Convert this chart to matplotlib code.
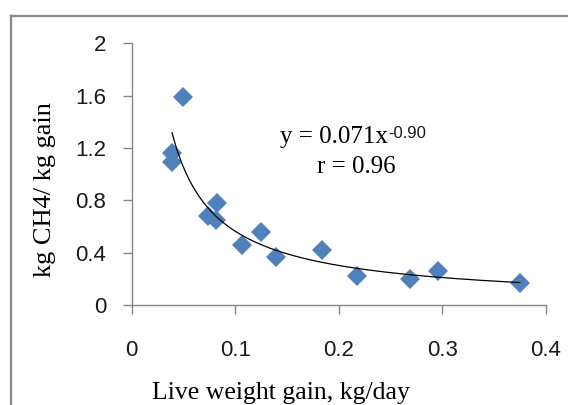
import matplotlib
matplotlib.use("Agg")
import matplotlib.pyplot as plt
from matplotlib.lines import Line2D
import numpy as np

# ── Data ──────────────────────────────────────────────────────────────────────
gain = [0.039, 0.039, 0.050, 0.074, 0.081, 0.082, 0.107, 0.125, 0.139,
        0.184, 0.218, 0.269, 0.296, 0.375]
ch4_per_gain = [1.16, 1.09, 1.59, 0.68, 0.65, 0.78, 0.46, 0.56, 0.37,
                0.42, 0.22, 0.20, 0.26, 0.17]

# power trendline as printed on the chart: y = a * x^b
FIT_A = 0.071
FIT_B = -0.90
FIT_R = 0.96

x_ticks = [0, 0.1, 0.2, 0.3, 0.4]
x_tick_labels = ["0", "0.1", "0.2", "0.3", "0.4"]
y_ticks = [0, 0.4, 0.8, 1.2, 1.6, 2.0]
y_tick_labels = ["0", "0.4", "0.8", "1.2", "1.6", "2"]

AXIS_GREY = "#868686"
BLUE = "#4F81BD"
SERIF = "Liberation Serif"
SANS = "Liberation Sans"

fig = plt.figure(figsize=(5.68, 4.05), dpi=100)
fig.patch.set_facecolor("white")
ax = fig.add_axes([0.2319, 0.2469, 0.7288, 0.6461])

ax.plot(gain, ch4_per_gain, linestyle="none", marker="D", markersize=10,
        color=BLUE, markeredgewidth=0, zorder=3)

# trendline over the data range
xs = np.linspace(min(gain), max(gain), 200)
ax.plot(xs, FIT_A * xs ** FIT_B, color="black", linewidth=0.9, zorder=4)

ax.set_xlim(0, 0.4)
ax.set_ylim(0, 2)
ax.set_xticks(x_ticks)
ax.set_xticklabels(x_tick_labels, fontfamily=SANS, fontsize=16)
ax.set_yticks(y_ticks)
ax.set_yticklabels(y_tick_labels, fontfamily=SANS, fontsize=16)

for side in ["top", "right"]:
    ax.spines[side].set_visible(False)
for side in ["left", "bottom"]:
    ax.spines[side].set_color(AXIS_GREY)
    ax.spines[side].set_linewidth(1.0)
ax.tick_params(axis="x", direction="out", length=6.5, width=1.0,
               color=AXIS_GREY, pad=19, labelcolor="#1a1a1a")
ax.tick_params(axis="y", direction="out", length=6.3, width=1.0,
               color=AXIS_GREY, pad=12, labelcolor="#1a1a1a")

# equation + r annotation
eq = ax.text(0.1433, 1.238, f"y = {FIT_A:.3f}x", fontfamily=SERIF,
             fontsize=18, ha="left", va="baseline")
ax.annotate(f"{FIT_B:.2f}", xy=(1.0, 0.68), xycoords=eq, fontfamily=SANS,
            fontsize=12, ha="left", va="center", color="#1a1a1a")
ax.text(0.2172, 1.009, f"r = {FIT_R:.2f}", fontfamily=SERIF, fontsize=18,
        ha="center", va="baseline")

# axis titles
fig.text(281 / 568, 6 / 405, "Live weight gain, kg/day", fontfamily=SERIF,
         fontsize=18.5, ha="center", va="baseline")
fig.text(45 / 568, 1 - 190 / 405, "kg CH4/ kg gain", fontfamily=SERIF,
         fontsize=19, ha="center", va="center", rotation=90)

# outer chart border (cropped on the right and bottom in the reference)
fig.add_artist(Line2D([11 / 568, 1.0], [1 - 16 / 405, 1 - 16 / 405],
                      transform=fig.transFigure, color="#8c8c8c", linewidth=1.7))
fig.add_artist(Line2D([11 / 568, 11 / 568], [0.0, 1 - 16 / 405],
                      transform=fig.transFigure, color="#8c8c8c", linewidth=1.7))

fig.savefig("out.png", dpi=100, facecolor="white")
